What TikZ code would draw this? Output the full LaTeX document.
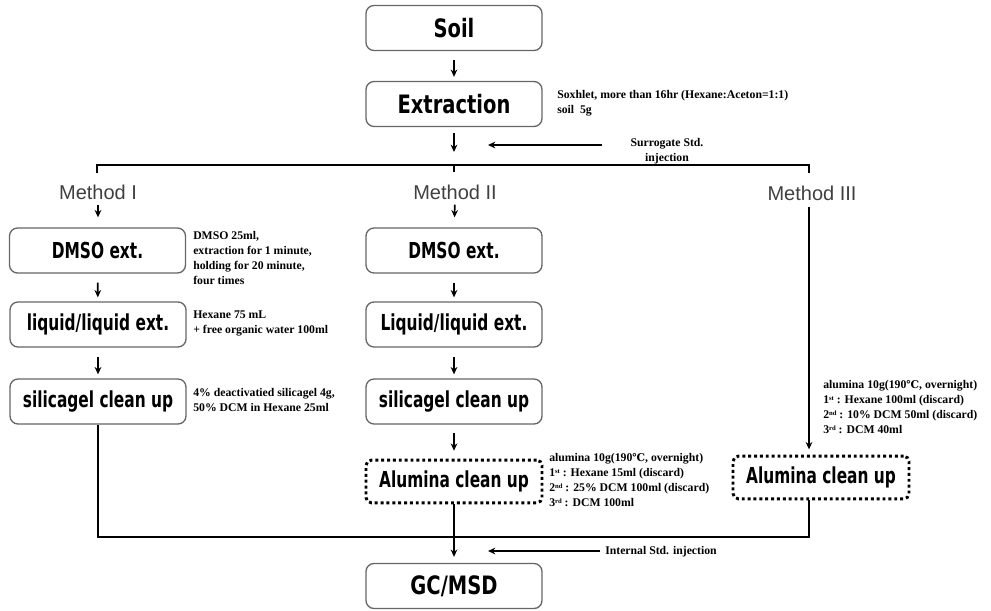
\documentclass[tikz,border=0pt]{standalone}
\usepackage{fontspec}
\usetikzlibrary{arrows.meta}
\newfontfamily\titlefont{DejaVu Sans}[FakeStretch=0.77]
\newfontfamily\labfont{DejaVu Sans}[FakeStretch=0.7]
\newfontfamily\methfont{Liberation Sans}
\newfontfamily\notefont{Liberation Serif}
\newfontfamily\symfont{DejaVu Serif}
\newcommand{\degC}{{\symfont\fontsize{8}{10}\selectfont ℃}}
\newcommand{\sps}[1]{\raisebox{2.5pt}{\fontsize{5}{6}\selectfont #1}}
\tikzset{
  procbox/.style={draw=black!60, line width=1pt, rounded corners=6pt, minimum width=132pt, minimum height=33.75pt, inner sep=0pt},
  dotbox/.style={draw=black, line width=2.2pt, dash pattern=on 2.2pt off 2.2pt, rounded corners=4pt, minimum width=132pt, minimum height=32pt, inner sep=0pt},
  bigtxt/.style={font=\titlefont\bfseries\fontsize{19}{22}\selectfont},
  labtxt/.style={font=\labfont\bfseries\fontsize{16.5}{20}\selectfont},
  meth/.style={font=\methfont\fontsize{15}{18}\selectfont, text=black!75, inner sep=0pt},
  note/.style={font=\notefont\bfseries\fontsize{8.8}{11.25}\selectfont, align=left, anchor=west, inner sep=0pt},
  arr/.style={-{Stealth[length=5.5pt,width=5pt]}, line width=1.2pt, shorten <=6.75pt, shorten >=3pt},
  ln/.style={line width=1.5pt},
}
\begin{document}
\begin{tikzpicture}[x=0.75pt,y=-0.75pt]
\useasboundingbox (0,0) rectangle (991,610);
% top
\node[procbox,bigtxt] (soil) at (454,28) {Soil};
\node[procbox,bigtxt] (ext) at (454,104) {Extraction};
\node[note] (extn) at (557,103.5) {Soxhlet, more than 16hr (Hexane:Aceton=1:1)\\soil\ \ 5g};
\draw[arr] (soil) -- (ext);
% split
\coordinate (split) at (454,165);
\coordinate (L) at (97,165);
\coordinate (R) at (809,165);
\draw[arr, shorten >=9.75pt, shorten <=4.5pt] (ext) -- (split);
\coordinate (surA) at (602,145);
\coordinate (surB) at (488,145);
\draw[arr, shorten <=0pt, shorten >=0pt] (surA) -- (surB);
\node[note, anchor=center, align=center] (surt) at (667,151) {Surrogate Std.\\injection};
\draw[ln] ([yshift=-6pt]L) -- (L) -- (R) -- ([yshift=-6pt]R);
\draw[ln] (split) -- ([yshift=-5pt]split);
% method labels
\node[meth] (m1) at (98,192) {Method I};
\node[meth] (m2) at (455,192) {Method II};
\node[meth] (m3) at (812,193) {Method III};
% method I
\node[procbox,labtxt] (d1) at (97.5,250.5) {DMSO ext.};
\node[procbox,labtxt] (l1) at (98,324.5) {liquid/liquid ext.};
\node[procbox,labtxt] (s1) at (98,401.5) {silicagel clean up};
\node[note] (d1n) at (193,257.5) {DMSO 25ml,\\extraction for 1 minute,\\holding for 20 minute,\\four times};
\node[note] (l1n) at (193,323.5) {Hexane 75 mL\\+ free organic water 100ml};
\node[note] (s1n) at (193,400.5) {4\% deactivatied silicagel 4g,\\50\% DCM in Hexane 25ml};
\draw[arr, shorten <=3.75pt, shorten >=7.5pt] (m1) -- (m1 |- d1.north);
\draw[arr] (d1) -- (l1);
\draw[arr] (l1) -- (s1);
% method II
\node[procbox,labtxt] (d2) at (454,250.5) {DMSO ext.};
\node[procbox,labtxt] (l2) at (454,324.5) {Liquid/liquid ext.};
\node[procbox,labtxt] (s2) at (454,401.5) {silicagel clean up};
\node[dotbox,labtxt] (a2) at (454,481.5) {Alumina clean up};
\node[note] (a2n) at (549,480.5) {alumina 10g(190\degC, overnight)\\1\sps{st} : Hexane 15ml (discard)\\2\sps{nd} : 25\% DCM 100ml (discard)\\3\sps{rd} : DCM 100ml};
\draw[arr, shorten <=3.75pt, shorten >=7.5pt] (m2) -- (d2);
\draw[arr] (d2) -- (l2);
\draw[arr] (l2) -- (s2);
\draw[arr, shorten <=6pt, shorten >=6pt] (s2) -- (a2);
% method III
\node[dotbox,labtxt] (a3) at (821,477.5) {Alumina clean up};
\node[note] (a3n) at (823,407.5) {alumina 10g(190\degC, overnight)\\1\sps{st} : Hexane 100ml (discard)\\2\sps{nd} : 10\% DCM 50ml (discard)\\3\sps{rd} : DCM 40ml};
\draw[arr, shorten <=5pt, shorten >=4pt] (m3.south -| R) -- (a3.north -| R);
% merge
\coordinate (M) at (454,537);
\node[procbox,bigtxt] (gc) at (454,586) {GC/MSD};
\draw[ln] (s1.south) -- (s1.south |- M) -- (M);
\draw[ln] (a3.south -| R) -- (R |- M) -- (M);
\draw[ln] (a2.south) -- (M);
\draw[arr, shorten <=0pt, shorten >=4.5pt] (M) -- (gc);
\coordinate (inA) at (600,551);
\coordinate (inB) at (488,551);
\draw[arr, shorten <=0pt, shorten >=0pt] (inA) -- (inB);
\node[note] (int) at (605,552) {Internal Std. injection};
\end{tikzpicture}
\end{document}
